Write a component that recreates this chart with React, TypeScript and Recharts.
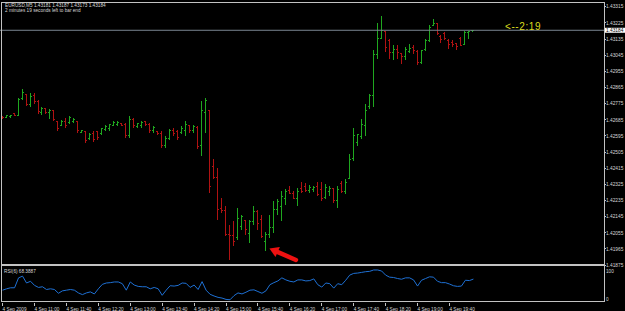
import React from 'react';
import { ComposedChart, Bar, Line, XAxis, YAxis, ReferenceLine, ReferenceDot } from 'recharts';

const times = [
  '10:20', '10:25', '10:30', '10:35', '10:40', '10:45', '10:50', '10:55',
  '11:00', '11:05', '11:10', '11:15', '11:20', '11:25', '11:30', '11:35', '11:40', '11:45', '11:50', '11:55',
  '12:00', '12:05', '12:10', '12:15', '12:20', '12:25', '12:30', '12:35', '12:40', '12:45', '12:50', '12:55',
  '13:00', '13:05', '13:10', '13:15', '13:20', '13:25', '13:30', '13:35', '13:40', '13:45', '13:50', '13:55',
  '14:00', '14:05', '14:10', '14:15', '14:20', '14:25', '14:30', '14:35', '14:40', '14:45', '14:50', '14:55',
  '15:00', '15:05', '15:10', '15:15', '15:20', '15:25', '15:30', '15:35', '15:40', '15:45', '15:50', '15:55',
  '16:00', '16:05', '16:10', '16:15', '16:20', '16:25', '16:30', '16:35', '16:40', '16:45', '16:50', '16:55',
  '17:00', '17:05', '17:10', '17:15', '17:20', '17:25', '17:30', '17:35', '17:40', '17:45', '17:50', '17:55',
  '18:00', '18:05', '18:10', '18:15', '18:20', '18:25', '18:30', '18:35', '18:40', '18:45', '18:50', '18:55',
  '19:00', '19:05', '19:10', '19:15', '19:20', '19:25', '19:30', '19:35', '19:40', '19:45', '19:50', '19:55',
  '20:00', '20:05', '20:10',
];

const opens = [
  1.42705, 1.42697, 1.42702, 1.42719, 1.42708, 1.42803, 1.42826, 1.42770, 1.42820, 1.42786,
  1.42725, 1.42747, 1.42725, 1.42736, 1.42674, 1.42652, 1.42674, 1.42669, 1.42674, 1.42674,
  1.42612, 1.42618, 1.42579, 1.42607, 1.42618, 1.42607, 1.42629, 1.42635, 1.42652, 1.42657,
  1.42663, 1.42657, 1.42596, 1.42685, 1.42646, 1.42652, 1.42674, 1.42657, 1.42624, 1.42618,
  1.42607, 1.42540, 1.42579, 1.42624, 1.42618, 1.42612, 1.42624, 1.42652, 1.42624, 1.42641,
  1.42540, 1.42725, 1.42736, 1.42427, 1.42366, 1.42192, 1.42181, 1.42046, 1.42040, 1.42029,
  1.42091, 1.42124, 1.42051, 1.42119, 1.42175, 1.42130, 1.42007, 1.42046, 1.42085, 1.42186,
  1.42203, 1.42248, 1.42293, 1.42276, 1.42248, 1.42304, 1.42315, 1.42293, 1.42298, 1.42315,
  1.42298, 1.42253, 1.42287, 1.42304, 1.42237, 1.42332, 1.42287, 1.42360, 1.42467, 1.42556,
  1.42590, 1.42652, 1.42758, 1.42820, 1.43050, 1.43140, 1.43179, 1.43129, 1.43061, 1.43078,
  1.43056, 1.43039, 1.43067, 1.43089, 1.43067, 1.43005, 1.43078, 1.43129, 1.43213, 1.43224,
  1.43151, 1.43168, 1.43129, 1.43117, 1.43112, 1.43140, 1.43101, 1.43173, 1.43181,
];

const highs = [
  1.42708, 1.42713, 1.42713, 1.42723, 1.42807, 1.42854, 1.42830, 1.42835, 1.42835, 1.42798,
  1.42754, 1.42751, 1.42745, 1.42742, 1.42676, 1.42685, 1.42695, 1.42708, 1.42695, 1.42676,
  1.42629, 1.42624, 1.42611, 1.42620, 1.42620, 1.42642, 1.42657, 1.42661, 1.42676, 1.42676,
  1.42667, 1.42667, 1.42708, 1.42695, 1.42667, 1.42676, 1.42676, 1.42667, 1.42648, 1.42624,
  1.42624, 1.42592, 1.42633, 1.42642, 1.42629, 1.42648, 1.42676, 1.42657, 1.42657, 1.42648,
  1.42788, 1.42807, 1.42742, 1.42465, 1.42418, 1.42250, 1.42203, 1.42100, 1.42119, 1.42193,
  1.42156, 1.42128, 1.42128, 1.42203, 1.42184, 1.42156, 1.42059, 1.42156, 1.42231, 1.42246,
  1.42287, 1.42300, 1.42315, 1.42287, 1.42306, 1.42339, 1.42334, 1.42321, 1.42315, 1.42339,
  1.42339, 1.42325, 1.42315, 1.42306, 1.42315, 1.42343, 1.42353, 1.42493, 1.42642, 1.42605,
  1.42689, 1.42773, 1.42830, 1.43076, 1.43222, 1.43263, 1.43181, 1.43133, 1.43101, 1.43101,
  1.43057, 1.43091, 1.43110, 1.43104, 1.43072, 1.43076, 1.43133, 1.43213, 1.43245, 1.43226,
  1.43157, 1.43175, 1.43134, 1.43129, 1.43113, 1.43144, 1.43181, 1.43181, 1.43187,
];

const lows = [
  1.42689, 1.42695, 1.42695, 1.42704, 1.42704, 1.42798, 1.42760, 1.42754, 1.42773, 1.42717,
  1.42713, 1.42717, 1.42689, 1.42676, 1.42624, 1.42648, 1.42642, 1.42661, 1.42667, 1.42614,
  1.42611, 1.42555, 1.42573, 1.42564, 1.42573, 1.42601, 1.42620, 1.42624, 1.42648, 1.42652,
  1.42648, 1.42583, 1.42586, 1.42642, 1.42639, 1.42642, 1.42648, 1.42614, 1.42614, 1.42601,
  1.42527, 1.42527, 1.42573, 1.42596, 1.42573, 1.42605, 1.42592, 1.42611, 1.42614, 1.42521,
  1.42483, 1.42614, 1.42278, 1.42353, 1.42128, 1.42165, 1.42035, 1.41904, 1.41984, 1.42016,
  1.42072, 1.42044, 1.41997, 1.42100, 1.42072, 1.42025, 1.41954, 1.42025, 1.42053, 1.42156,
  1.42119, 1.42212, 1.42269, 1.42241, 1.42203, 1.42278, 1.42283, 1.42278, 1.42283, 1.42259,
  1.42231, 1.42241, 1.42259, 1.42221, 1.42193, 1.42278, 1.42269, 1.42353, 1.42455, 1.42540,
  1.42577, 1.42596, 1.42745, 1.42754, 1.43026, 1.43133, 1.43063, 1.43026, 1.43020, 1.43026,
  1.42998, 1.43020, 1.43057, 1.43054, 1.42992, 1.42998, 1.43069, 1.43119, 1.43207, 1.43157,
  1.43113, 1.43129, 1.43082, 1.43091, 1.43076, 1.43095, 1.43101, 1.43138, 1.43173,
];

const closes = [
  1.42697, 1.42708, 1.42711, 1.42708, 1.42798, 1.42837, 1.42770, 1.42814, 1.42786, 1.42730,
  1.42747, 1.42725, 1.42736, 1.42685, 1.42635, 1.42674, 1.42652, 1.42697, 1.42685, 1.42624,
  1.42624, 1.42568, 1.42601, 1.42573, 1.42584, 1.42635, 1.42646, 1.42657, 1.42669, 1.42669,
  1.42652, 1.42596, 1.42685, 1.42652, 1.42663, 1.42669, 1.42657, 1.42624, 1.42641, 1.42607,
  1.42540, 1.42579, 1.42624, 1.42607, 1.42584, 1.42635, 1.42657, 1.42624, 1.42646, 1.42534,
  1.42736, 1.42792, 1.42315, 1.42366, 1.42186, 1.42181, 1.42046, 1.42040, 1.42007, 1.42136,
  1.42147, 1.42074, 1.42119, 1.42175, 1.42108, 1.42035, 1.42046, 1.42085, 1.42186, 1.42231,
  1.42259, 1.42287, 1.42276, 1.42248, 1.42287, 1.42287, 1.42293, 1.42310, 1.42310, 1.42270,
  1.42248, 1.42310, 1.42304, 1.42237, 1.42298, 1.42287, 1.42338, 1.42461, 1.42596, 1.42601,
  1.42657, 1.42736, 1.42820, 1.43050, 1.43140, 1.43185, 1.43089, 1.43061, 1.43078, 1.43061,
  1.43039, 1.43078, 1.43084, 1.43072, 1.43005, 1.43072, 1.43129, 1.43202, 1.43224, 1.43168,
  1.43134, 1.43140, 1.43106, 1.43106, 1.43095, 1.43101, 1.43173, 1.43179, 1.43184,
];

const rsi6 = [
  36, 40, 43, 43, 72, 77, 57, 62, 50, 44,
  46, 38, 40, 38, 27, 34, 36, 38, 36, 28,
  23, 28, 31, 25, 40, 53, 57, 58, 60, 60,
  55, 36, 60, 51, 47, 46, 46, 40, 44, 40,
  21, 36, 49, 48, 50, 57, 56, 44, 51, 38,
  61, 36, 24, 19, 15, 13, 9, 8, 20, 28,
  25, 30, 36, 37, 32, 27, 34, 52, 58, 63,
  72, 66, 62, 60, 66, 66, 63, 64, 69, 52,
  45, 57, 55, 42, 55, 52, 65, 80, 85, 86,
  88, 90, 91, 95, 95, 92, 80, 74, 73, 70,
  68, 72, 72, 66, 48, 65, 70, 75, 74, 62,
  58, 58, 54, 49, 47, 48, 65, 64, 68.3887,
];

const priceTicks = [
  1.43315, 1.43225, 1.43135, 1.43045, 1.42955, 1.42865, 1.42775, 1.42685, 1.42595,
  1.42505, 1.42415, 1.42325, 1.42235, 1.42145, 1.42055, 1.41965, 1.41875,
];
const timeTicks = ['10:20', '11:00', '11:40', '12:20', '13:00', '13:40', '14:20', '15:00', '15:40', '16:20', '17:00', '17:40', '18:20', '19:00', '19:40'];
const timeTickLabels = ['4 Sep 2009', '4 Sep 11:00', '4 Sep 11:40', '4 Sep 12:20', '4 Sep 13:00', '4 Sep 13:40', '4 Sep 14:20', '4 Sep 15:00', '4 Sep 15:40', '4 Sep 16:20', '4 Sep 17:00', '4 Sep 17:40', '4 Sep 18:20', '4 Sep 19:00', '4 Sep 19:40'];
const rsiLevels = [100, 0];
const bidPrice = 1.43184;
const symbolLine = 'EURUSD,M5  1.43181 1.43187 1.43173 1.43184';
const timerLine = '2 minutes 19 seconds left to bar end';
const countdownText = '<--2:19';
const rsiTitle = 'RSI(6) 68.3887';
const arrowBarIndex = 66;

const UP = '#1fa71f';
const DOWN = '#b01212';
const TEXT = '#d6d6d6';
const FRAME = '#c2c2c2';
const RSI_COLOR = '#1e70d4';
const FONT = '"Liberation Sans", Arial, sans-serif';

const rows = times.map((t, i) => ({
  t,
  open: opens[i],
  high: highs[i],
  low: lows[i],
  close: closes[i],
  range: [lows[i], highs[i]],
  rsi: rsi6[i],
}));

function OhlcBar(props: any) {
  const { x, y, width, height, payload } = props;
  if (x == null || y == null || !payload) return null;
  const top = Math.min(y, y + height);
  const h = Math.abs(height);
  const span = payload.high - payload.low;
  const toY = (v: number) => (span > 0 ? top + ((payload.high - v) / span) * h : top);
  const cx = x + width / 2;
  const lx = Math.round(cx - 0.5);
  const color = payload.close >= payload.open ? UP : DOWN;
  const y0 = Math.round(top);
  const y1 = Math.max(y0 + 1, Math.round(top + h));
  const oy = Math.min(Math.max(Math.round(toY(payload.open) - 0.5), y0), y1 - 1);
  const cy = Math.min(Math.max(Math.round(toY(payload.close) - 0.5), y0), y1 - 1);
  return (
    <g>
      <rect x={lx} y={y0} width={1} height={y1 - y0} fill={color} />
      <rect x={lx - 1} y={oy} width={1} height={1} fill={color} />
      <rect x={lx + 1} y={cy} width={1} height={1} fill={color} />
    </g>
  );
}

function PriceTick(props: any) {
  const { x, y, payload } = props;
  return (
    <g>
      <rect x={x - 2} y={Math.round(y - 0.5)} width={2} height={1} fill={FRAME} />
      <text x={x} y={y + 1.7} fill={TEXT} fontSize={4.8} fontFamily={FONT}>
        {Number(payload.value).toFixed(5)}
      </text>
    </g>
  );
}

function TimeTick(props: any) {
  const { x, y, payload } = props;
  const k = timeTicks.indexOf(payload.value);
  return (
    <g>
      <rect x={Math.round(x - 0.5)} y={y - 3} width={1} height={3} fill={FRAME} />
      <text x={x} y={y + 4.8} fill={TEXT} fontSize={4.7} fontFamily={FONT}>
        {k >= 0 ? timeTickLabels[k] : payload.value}
      </text>
    </g>
  );
}

function BidLabel(props: any) {
  const vb = props.viewBox || {};
  const right = (vb.x || 0) + (vb.width || 0);
  const y = vb.y || 0;
  return (
    <g>
      <rect x={right} y={y - 2.5} width={21} height={5} fill="#ffffff" />
      <text x={right + 2} y={y + 1.7} fill="#000000" fontSize={4.8} fontFamily={FONT}>
        {bidPrice.toFixed(5)}
      </text>
    </g>
  );
}

function makeLevelLabel(text: string, dy: number) {
  return (props: any) => {
    const vb = props.viewBox || {};
    const right = (vb.x || 0) + (vb.width || 0);
    return (
      <text x={right + 2} y={(vb.y || 0) + dy} fill={TEXT} fontSize={4.7} fontFamily={FONT}>
        {text}
      </text>
    );
  };
}

function ArrowMark(props: any) {
  const { cx, cy } = props;
  if (cx == null || cy == null) return null;
  const tipX = cx + 3.5;
  const tipY = cy - 2.5;
  const tailX = cx + 30;
  const tailY = cy + 9;
  const dx = tailX - tipX;
  const dy = tailY - tipY;
  const len = Math.sqrt(dx * dx + dy * dy);
  const ux = dx / len;
  const uy = dy / len;
  const px = -uy;
  const py = ux;
  const headLen = 9;
  const half = 5.5;
  const bx = tipX + ux * headLen;
  const by = tipY + uy * headLen;
  const pts = `${tipX},${tipY} ${bx + px * half},${by + py * half} ${bx - px * half},${by - py * half}`;
  return (
    <g>
      <line x1={bx - ux * 1} y1={by - uy * 1} x2={tailX} y2={tailY} stroke="#ee1111" strokeWidth={4.5} strokeLinecap="round" />
      <polygon points={pts} fill="#ee1111" />
    </g>
  );
}

export default function App() {
  return (
    <div style={{ position: 'absolute', left: 0, top: 0, width: 625, height: 311, background: '#000', overflow: 'hidden' }}>
      <ComposedChart width={625} height={311} data={rows} margin={{ top: 3, right: 0, bottom: 0, left: 0 }}>
        <XAxis
          dataKey="t"
          ticks={timeTicks}
          interval={0}
          height={8}
          tickSize={3}
          tickMargin={0}
          tickLine={false}
          axisLine={false}
          tick={<TimeTick />}
          padding={{ left: 0.6, right: 128.6 }}
        />
        <YAxis
          yAxisId="p"
          orientation="right"
          width={21}
          domain={[1.41664, 1.43336]}
          allowDataOverflow
          ticks={priceTicks}
          interval={0}
          tickSize={2}
          tickMargin={0}
          tickLine={false}
          axisLine={false}
          tick={<PriceTick />}
        />
        <YAxis yAxisId="r" hide domain={[-1.47, 875]} allowDataOverflow />
        <ReferenceLine yAxisId="p" y={bidPrice} stroke="#7a8591" strokeWidth={1} label={{ content: BidLabel }} />
        <ReferenceLine yAxisId="r" y={rsiLevels[0]} stroke="none" label={{ content: makeLevelLabel('100', 5.2) }} />
        <ReferenceLine yAxisId="r" y={rsiLevels[1]} stroke="none" label={{ content: makeLevelLabel('0', -1.2) }} />
        <Bar yAxisId="p" dataKey="range" barSize={1} shape={<OhlcBar />} isAnimationActive={false} />
        <Line yAxisId="r" dataKey="rsi" stroke={RSI_COLOR} strokeWidth={1} dot={false} activeDot={false} isAnimationActive={false} />
        <ReferenceDot
          yAxisId="p"
          x={times[arrowBarIndex]}
          y={lows[arrowBarIndex]}
          r={1}
          shape={(p: any) => <ArrowMark cx={p.cx} cy={p.cy} />}
        />
      </ComposedChart>
      <svg width={625} height={311} style={{ position: 'absolute', left: 0, top: 0, pointerEvents: 'none' }}>
        <rect x={1} y={2} width={604} height={1} fill={FRAME} />
        <rect x={1} y={2} width={1} height={300} fill={FRAME} />
        <rect x={604} y={2} width={1} height={300} fill={FRAME} />
        <rect x={1} y={264} width={604} height={2} fill={FRAME} />
        <rect x={1} y={301} width={604} height={1} fill={FRAME} />
        <text x={5} y={7.4} fill={TEXT} fontSize={4.7} fontFamily={FONT}>{symbolLine}</text>
        <text x={5} y={12.4} fill={TEXT} fontSize={4.7} fontFamily={FONT}>{timerLine}</text>
        <text x={505} y={30.3} fill="#dcdc1e" fontSize={10} letterSpacing={0.6} fontFamily={FONT}>{countdownText}</text>
        <text x={4} y={272.7} fill={TEXT} fontSize={4.7} fontFamily={FONT}>{rsiTitle}</text>
      </svg>
    </div>
  );
}
